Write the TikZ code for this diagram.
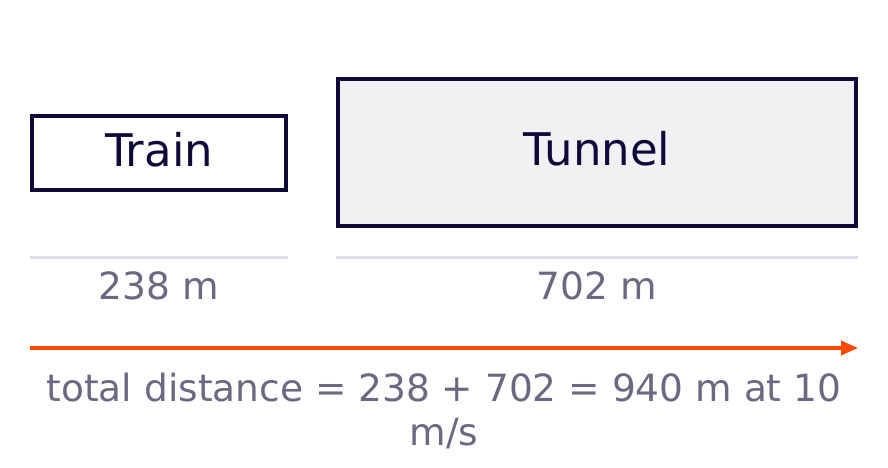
\documentclass[tikz,border=0pt]{standalone}
\usepackage{fontspec}
\setmainfont{DejaVu Sans}
\usetikzlibrary{arrows.meta}

\definecolor{inkblue}{HTML}{0D0A3A}
\definecolor{labelgray}{HTML}{6B6882}
\definecolor{rulegray}{HTML}{DDDCE8}
\definecolor{tunnelfill}{HTML}{F1F1F4}
\definecolor{runorange}{HTML}{FF4A00}

\begin{document}
\begin{tikzpicture}[x=1pt, y=-1pt,
    block/.style={draw=inkblue, line width=4pt, inner sep=0pt, text=inkblue,
      font=\fontsize{45}{54}\selectfont, text height=32pt, text depth=6pt},
    length/.style={text=labelgray, font=\fontsize{37.5}{43.3}\selectfont, anchor=base},
    rule/.style={rulegray, line width=3pt}]
    \useasboundingbox (0,0) rectangle (888,468);

    % Blocks
    \node[block, minimum width=254pt, minimum height=74pt] (train) at (159,153) {Train};
    \node[block, fill=tunnelfill, minimum width=518pt, minimum height=147pt] (tunnel) at (597,152.5) {Tunnel};

    % Length rules
    \draw[rule] (30,257.5) -- (288,257.5);
    \draw[rule] (336,257.5) -- (858,257.5);
    \node[length] (trainlen) at (159,299) {238 m};
    \node[length] (tunnellen) at (597,299) {702 m};

    % Total distance
    \coordinate (start) at (30,348);
    \coordinate (end) at (858,348);
    \draw[-{Triangle[length=17pt, width=14pt]}, runorange, line width=3.5pt] (start) -- (end);
    \node[length, align=center] (total) at (444,445) {total distance = 238 + 702 = 940 m at 10\\m/s};
  \end{tikzpicture}
\end{document}
